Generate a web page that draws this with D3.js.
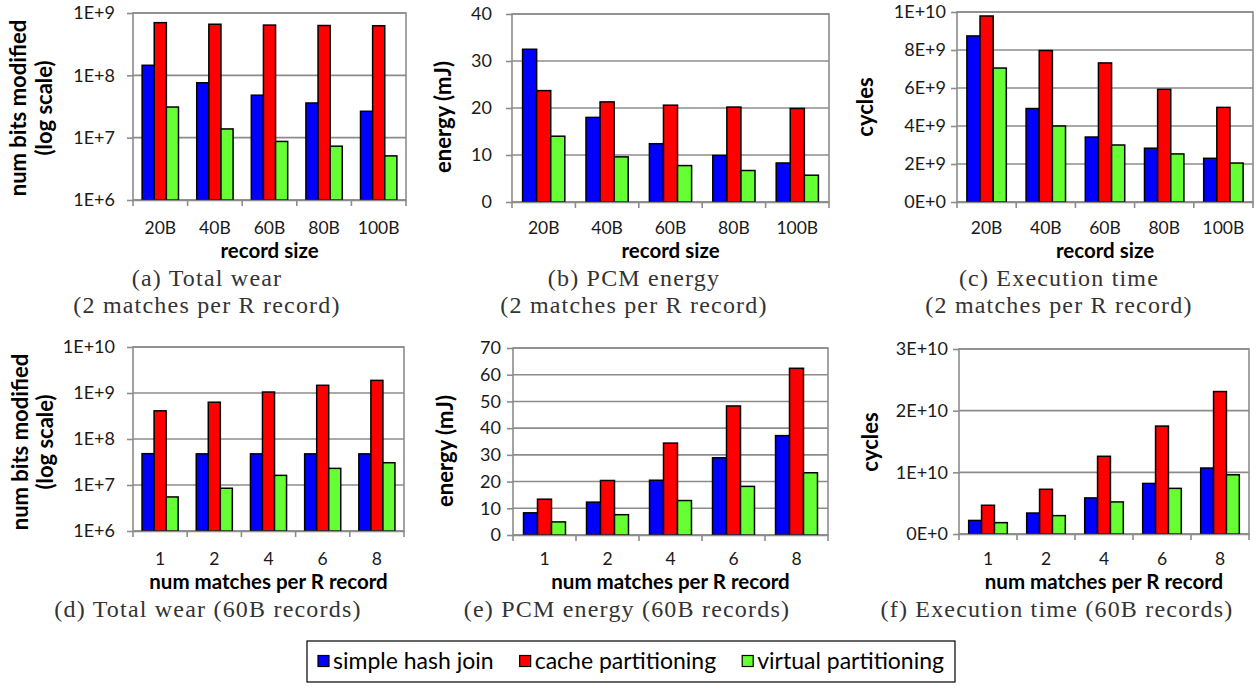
<!DOCTYPE html>
<html><head><meta charset="utf-8">
<script src="https://cdn.jsdelivr.net/npm/d3@7"></script>
<style>
html,body{margin:0;padding:0;background:#fff;}
svg{display:block;}
</style></head><body>
<svg id="chart" width="1258" height="690"></svg>
<script>
// ---------- data ----------
const seriesNames = ["simple hash join", "cache partitioning", "virtual partitioning"];
const seriesColors = ["#0000ff", "#ff0000", "#66ff33"];
const recordSizes = ["20B", "40B", "60B", "80B", "100B"];
const matchCounts = ["1", "2", "4", "6", "8"];

// (a) total wear vs record size (bits modified)
const wearBySizeSimple  = [1.45e8, 7.6e7, 4.8e7, 3.6e7, 2.65e7];
const wearBySizeCache   = [7.0e8, 6.6e8, 6.4e8, 6.3e8, 6.25e8];
const wearBySizeVirtual = [3.1e7, 1.38e7, 8.7e6, 7.3e6, 5.1e6];
// (b) PCM energy vs record size (mJ)
const energyBySizeSimple  = [32.5, 18.0, 12.4, 9.9, 8.3];
const energyBySizeCache   = [23.7, 21.3, 20.6, 20.2, 19.9];
const energyBySizeVirtual = [14.0, 9.6, 7.75, 6.7, 5.7];
// (c) execution time vs record size (cycles)
const cyclesBySizeSimple  = [8.74e9, 4.92e9, 3.42e9, 2.83e9, 2.3e9];
const cyclesBySizeCache   = [9.79e9, 7.97e9, 7.32e9, 5.93e9, 4.98e9];
const cyclesBySizeVirtual = [7.05e9, 4.0e9, 3.0e9, 2.53e9, 2.05e9];
// (d) total wear vs matches (60B records)
const wearByMatchSimple  = [4.8e7, 4.75e7, 4.75e7, 4.75e7, 4.75e7];
const wearByMatchCache   = [4.1e8, 6.3e8, 1.05e9, 1.47e9, 1.88e9];
const wearByMatchVirtual = [5.5e6, 8.5e6, 1.62e7, 2.3e7, 3.05e7];
// (e) PCM energy vs matches (mJ)
const energyByMatchSimple  = [8.3, 12.3, 20.5, 28.9, 37.2];
const energyByMatchCache   = [13.4, 20.4, 34.4, 48.3, 62.4];
const energyByMatchVirtual = [4.9, 7.6, 12.9, 18.2, 23.3];
// (f) execution time vs matches (cycles)
const cyclesByMatchSimple  = [2.2e9, 3.4e9, 5.85e9, 8.2e9, 1.07e10];
const cyclesByMatchCache   = [4.66e9, 7.25e9, 1.26e10, 1.75e10, 2.31e10];
const cyclesByMatchVirtual = [1.84e9, 2.98e9, 5.2e9, 7.4e9, 9.6e9];

// tick values and labels
const wearTicksA = [1e6, 1e7, 1e8, 1e9];
const wearTickLabelsA = ["1E+6", "1E+7", "1E+8", "1E+9"];
const energyTicksB = [0, 10, 20, 30, 40];
const energyTickLabelsB = ["0", "10", "20", "30", "40"];
const cyclesTicksC = [0, 2e9, 4e9, 6e9, 8e9, 1e10];
const cyclesTickLabelsC = ["0E+0", "2E+9", "4E+9", "6E+9", "8E+9", "1E+10"];
const wearTicksD = [1e6, 1e7, 1e8, 1e9, 1e10];
const wearTickLabelsD = ["1E+6", "1E+7", "1E+8", "1E+9", "1E+10"];
const energyTicksE = [0, 10, 20, 30, 40, 50, 60, 70];
const energyTickLabelsE = ["0", "10", "20", "30", "40", "50", "60", "70"];
const cyclesTicksF = [0, 1e10, 2e10, 3e10];
const cyclesTickLabelsF = ["0E+0", "1E+10", "2E+10", "3E+10"];

// ---------- layout ----------
const svg = d3.select("#chart");
const GRID = "#8c8c8c";
const SANS = "Lato, 'Open Sans', sans-serif";
const SERIF = "'Liberation Serif', 'DejaVu Serif', serif";
const TEXT = "#1a1a1a";

const panels = [
  {cats: recordSizes, series: [wearBySizeSimple, wearBySizeCache, wearBySizeVirtual], log: true,
   ticks: wearTicksA, labels: wearTickLabelsA, box: [133, 406, 13, 200], pad: 12,
   ytitle: ["num bits modified", "(log scale)"], ytx: [26, 52], yty: 108,
   xtitle: "record size", xlabY: 234, xtitY: 257.5,
   caption: ["(a) Total wear", "(2 matches per R record)"], capX: 207, capY: [286, 313]},
  {cats: recordSizes, series: [energyBySizeSimple, energyBySizeCache, energyBySizeVirtual], log: false,
   ticks: energyTicksB, labels: energyTickLabelsB, box: [512, 829, 14, 202], pad: 14,
   ytitle: ["energy (mJ)"], ytx: [451], yty: 117,
   xtitle: "record size", xlabY: 234, xtitY: 257.5,
   caption: ["(b) PCM energy", "(2 matches per R record)"], capX: 634, capY: [286, 313]},
  {cats: recordSizes, series: [cyclesBySizeSimple, cyclesBySizeCache, cyclesBySizeVirtual], log: false,
   ticks: cyclesTicksC, labels: cyclesTickLabelsC, box: [957, 1253, 12, 202], pad: 5,
   ytitle: ["cycles"], ytx: [873], yty: 107,
   xtitle: "record size", xlabY: 234, xtitY: 257.5,
   caption: ["(c) Execution time", "(2 matches per R record)"], capX: 1059, capY: [286, 313]},
  {cats: matchCounts, series: [wearByMatchSimple, wearByMatchCache, wearByMatchVirtual], log: true,
   ticks: wearTicksD, labels: wearTickLabelsD, box: [133, 404, 347, 531], pad: 12,
   ytitle: ["num bits modified", "(log scale)"], ytx: [28, 53], yty: 442,
   xtitle: "num matches per R record", xlabY: 565, xtitY: 589,
   caption: ["(d) Total wear (60B records)"], capX: 208, capY: [617]},
  {cats: matchCounts, series: [energyByMatchSimple, energyByMatchCache, energyByMatchVirtual], log: false,
   ticks: energyTicksE, labels: energyTickLabelsE, box: [513, 828, 348, 535], pad: 6,
   ytitle: ["energy (mJ)"], ytx: [453], yty: 451,
   xtitle: "num matches per R record", xlabY: 565, xtitY: 589,
   caption: ["(e) PCM energy (60B records)"], capX: 627, capY: [617]},
  {cats: matchCounts, series: [cyclesByMatchSimple, cyclesByMatchCache, cyclesByMatchVirtual], log: false,
   ticks: cyclesTicksF, labels: cyclesTickLabelsF, box: [959, 1249, 349, 534], pad: 5,
   ytitle: ["cycles"], ytx: [878], yty: 442,
   xtitle: "num matches per R record", xlabY: 565, xtitY: 589,
   caption: ["(f) Execution time (60B records)"], capX: 1057, capY: [617]}
];

function drawPanel(p) {
  const [x0, x1, y0, y1] = p.box;
  const g = svg.append("g");
  const x = d3.scaleBand().domain(p.cats).range([x0, x1]);
  const dom = [p.ticks[0], p.ticks[p.ticks.length - 1]];
  const y = (p.log ? d3.scaleLog() : d3.scaleLinear()).domain(dom).range([y1, y0]);

  // gridlines
  g.append("g").selectAll("line").data(p.ticks).join("line")
    .attr("x1", x0).attr("x2", x1)
    .attr("y1", d => y(d)).attr("y2", d => y(d))
    .attr("stroke", GRID).attr("stroke-width", 1.6);
  // plot border
  g.append("rect").attr("x", x0).attr("y", y0).attr("width", x1 - x0).attr("height", y1 - y0)
    .attr("fill", "none").attr("stroke", GRID).attr("stroke-width", 1.6);

  // bars
  const groupW = x.bandwidth() * 0.666;
  const inner = d3.scaleBand().domain(d3.range(p.series.length)).range([0, groupW]);
  const off = (x.bandwidth() - groupW) / 2;
  const base = dom[0];
  const rows = [];
  p.cats.forEach((c, i) => p.series.forEach((s, k) => rows.push({c, k, v: s[i]})));
  g.append("g").selectAll("rect").data(rows).join("rect")
    .attr("x", d => x(d.c) + off + inner(d.k))
    .attr("width", inner.bandwidth())
    .attr("y", d => y(d.v))
    .attr("height", d => y(base) - y(d.v))
    .attr("fill", d => seriesColors[d.k])
    .attr("stroke", "#000").attr("stroke-width", 1.5);

  // y axis
  const ya = g.append("g").attr("transform", `translate(${x0},0)`)
    .call(d3.axisLeft(y).tickValues(p.ticks).tickFormat((d, i) => p.labels[i])
      .tickSize(6).tickPadding(p.pad));
  ya.select(".domain").remove();
  ya.selectAll(".tick line").attr("stroke", GRID).attr("stroke-width", 1.6);
  ya.selectAll(".tick text").attr("fill", TEXT).style("font-family", SANS).style("font-size", "18px");

  // x axis: labels via axis, ticks at category boundaries
  const xa = g.append("g").attr("transform", `translate(0,${y1})`)
    .call(d3.axisBottom(x).tickSize(0).tickPadding(p.xlabY - y1));
  xa.select(".domain").attr("stroke", GRID).attr("stroke-width", 1.6);
  xa.selectAll(".tick text").attr("dy", "0").attr("fill", TEXT)
    .style("font-family", SANS).style("font-size", "17.5px");
  const edges = p.cats.map(c => x(c)).concat([x1]);
  g.append("g").selectAll("line").data(edges).join("line")
    .attr("x1", d => d).attr("x2", d => d).attr("y1", y1).attr("y2", y1 + 6)
    .attr("stroke", GRID).attr("stroke-width", 1.6);

  // axis titles
  g.append("text").attr("x", (x0 + x1) / 2).attr("y", p.xtitY).attr("text-anchor", "middle")
    .style("font-family", SANS).style("font-weight", "bold").style("font-size", "20.5px")
    .attr("fill", "#000").text(p.xtitle);
  p.ytitle.forEach((t, i) => {
    g.append("text").attr("transform", `translate(${p.ytx[i]},${p.yty}) rotate(-90)`)
      .attr("text-anchor", "middle")
      .style("font-family", SANS).style("font-weight", "bold").style("font-size", "22px")
      .attr("fill", "#000").text(t);
  });

  // captions
  p.caption.forEach((t, i) => {
    g.append("text").attr("x", p.capX).attr("y", p.capY[i]).attr("text-anchor", "middle")
      .style("font-family", SERIF).style("font-size", "24px").style("letter-spacing", "1.2px")
      .attr("fill", "#333").text(t);
  });
}

panels.forEach(drawPanel);

// ---------- legend ----------
const legendBox = {x: 307, y: 641, w: 648, h: 41};
const legendMargin = 11, swatch = 11, swatchGap = 4;
const lg = svg.append("g");
lg.append("rect").attr("x", legendBox.x).attr("y", legendBox.y)
  .attr("width", legendBox.w).attr("height", legendBox.h)
  .attr("fill", "#fff").attr("stroke", "#000").attr("stroke-width", 1.2);
const items = lg.selectAll("g.item").data(seriesNames).join("g").attr("class", "item");
items.append("rect").attr("x", 0).attr("y", -6).attr("width", swatch).attr("height", swatch)
  .attr("fill", (d, i) => seriesColors[i]).attr("stroke", "#000").attr("stroke-width", 1.2);
const ltexts = items.append("text").attr("x", swatch + swatchGap).attr("y", 7.5)
  .style("font-family", SANS).style("font-size", "23px").attr("fill", "#000").text(d => d);
// distribute items evenly across the box
const widths = ltexts.nodes().map(n => swatch + swatchGap + n.getComputedTextLength());
const free = legendBox.w - 2 * legendMargin - d3.sum(widths);
const gap = free / (widths.length - 1);
let cx = legendBox.x + legendMargin;
const starts = widths.map(w => { const s = cx; cx += w + gap; return s; });
items.attr("transform", (d, i) => `translate(${starts[i]},${legendBox.y + legendBox.h / 2})`);
</script>
</body></html>
